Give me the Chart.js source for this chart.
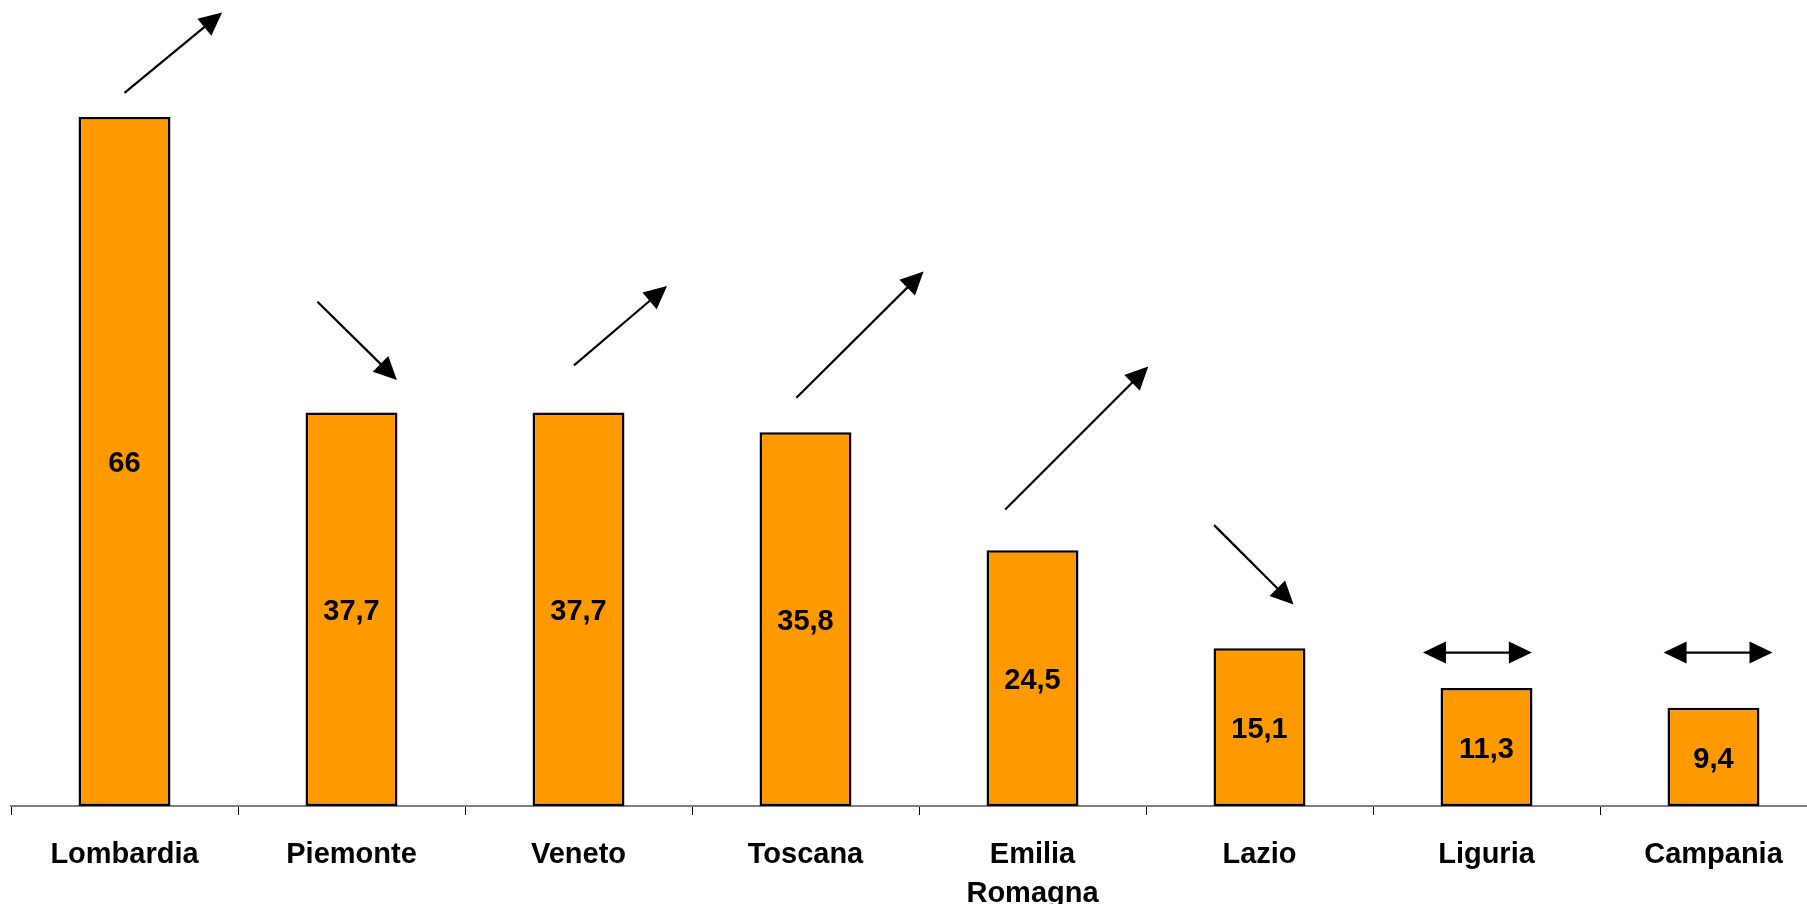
<!DOCTYPE html>
<html>
<head>
<meta charset="utf-8">
<script src="https://cdn.jsdelivr.net/npm/chart.js@4.4.1/dist/chart.umd.min.js"></script>
<style>
    html, body { margin: 0; padding: 0; background: #fff; overflow: hidden; }
    .wrap { width: 1830px; height: 904px; }
</style>
</head>
<body>
<div class="wrap"><canvas id="regionChart"></canvas></div>
<script>
// Data
const regions = ['Lombardia', 'Piemonte', 'Veneto', 'Toscana', ['Emilia', 'Romagna'], 'Lazio', 'Liguria', 'Campania'];
const values = [66, 37.7, 37.7, 35.8, 24.5, 15.1, 11.3, 9.4];
const trends = ['up', 'down', 'up', 'up', 'up', 'down', 'flat', 'flat'];

// Arrow placement in chart units: [category index, value]
const arrowFrom = [[0.0, 68.3], [0.85, 48.3], [1.98, 42.2], [2.96, 39.1], [3.88, 28.4], [4.8, 26.9], [5.72, 14.7], [6.78, 14.7]];
const arrowTo = [[0.43, 76.0], [1.2, 40.8], [2.39, 49.8], [3.52, 51.2], [4.51, 42.1], [5.15, 19.3], [6.2, 14.7], [7.26, 14.7]];

const FONT = 'Liberation Sans, Arial, sans-serif';

function arrowHead(ctx, x1, y1, x2, y2) {
    const a = Math.atan2(y2 - y1, x2 - x1);
    const len = 23, half = 11;
    ctx.beginPath();
    ctx.moveTo(x2, y2);
    ctx.lineTo(x2 - len * Math.cos(a) + half * Math.sin(a), y2 - len * Math.sin(a) - half * Math.cos(a));
    ctx.lineTo(x2 - len * Math.cos(a) - half * Math.sin(a), y2 - len * Math.sin(a) + half * Math.cos(a));
    ctx.closePath();
    ctx.fill();
}

// value labels in the middle of each bar
const barLabels = {
    id: 'barLabels',
    afterDatasetsDraw(chart) {
        const ctx = chart.ctx;
        const meta = chart.getDatasetMeta(0);
        ctx.save();
        ctx.fillStyle = '#000';
        ctx.font = 'bold 29px ' + FONT;
        ctx.textAlign = 'center';
        ctx.textBaseline = 'middle';
        meta.data.forEach((bar, i) => {
            ctx.fillText(String(values[i]).replace('.', ','), bar.x, (bar.y + bar.base) / 2 + 3);
        });
        ctx.restore();
    }
};

// trend arrows
const trendArrows = {
    id: 'trendArrows',
    afterDatasetsDraw(chart) {
        const ctx = chart.ctx;
        const xs = chart.scales.x, ys = chart.scales.y;
        ctx.save();
        ctx.strokeStyle = '#000';
        ctx.fillStyle = '#000';
        ctx.lineWidth = 2.2;
        trends.forEach((t, i) => {
            const x1 = xs.getPixelForValue(arrowFrom[i][0]), y1 = ys.getPixelForValue(arrowFrom[i][1]);
            const x2 = xs.getPixelForValue(arrowTo[i][0]), y2 = ys.getPixelForValue(arrowTo[i][1]);
            const a = Math.atan2(y2 - y1, x2 - x1);
            const trim = 18;
            const sx = t === 'flat' ? x1 + trim * Math.cos(a) : x1;
            const sy = t === 'flat' ? y1 + trim * Math.sin(a) : y1;
            ctx.beginPath();
            ctx.moveTo(sx, sy);
            ctx.lineTo(x2 - trim * Math.cos(a), y2 - trim * Math.sin(a));
            ctx.stroke();
            arrowHead(ctx, x1, y1, x2, y2);
            if (t === 'flat') arrowHead(ctx, x2, y2, x1, y1);
        });
        ctx.restore();
    }
};

const ctx = document.getElementById('regionChart').getContext('2d');
new Chart(ctx, {
    type: 'bar',
    data: {
        labels: regions,
        datasets: [{
            data: values,
            backgroundColor: '#FF9900',
            borderColor: '#000',
            borderWidth: 2.5,
            borderSkipped: false,
            categoryPercentage: 1,
            barPercentage: 0.405
        }]
    },
    options: {
        responsive: true,
        maintainAspectRatio: false,
        animation: false,
        layout: { padding: { left: 11, right: 3, top: 0, bottom: 0 } },
        plugins: { legend: { display: false }, tooltip: { enabled: false } },
        scales: {
            x: {
                afterFit(scale) { scale.height = 98; },
                border: { display: true, color: '#808080', width: 2 },
                grid: { display: true, drawOnChartArea: false, drawTicks: true, tickLength: 9, color: '#000', offset: true },
                ticks: {
                    color: '#000',
                    padding: 21,
                    maxRotation: 0,
                    autoSkip: false,
                    font: { family: FONT, size: 29, weight: 'bold', lineHeight: 1.34 }
                }
            },
            y: { display: false, min: 0, max: 77.2 }
        }
    },
    plugins: [barLabels, trendArrows]
});
</script>
</body>
</html>
